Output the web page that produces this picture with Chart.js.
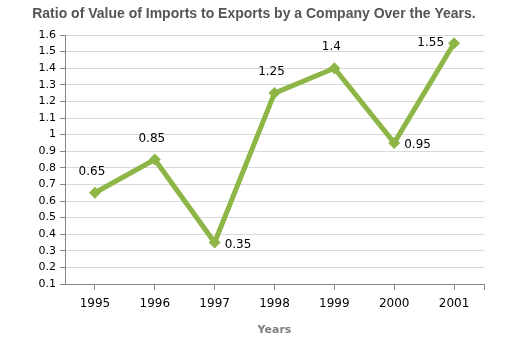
<!DOCTYPE html>
<html><head><meta charset="utf-8">
<script src="https://cdn.jsdelivr.net/npm/chart.js@4/dist/chart.umd.min.js"></script>
<style>html,body{margin:0;padding:0;background:#fff}#wrap{width:529px;height:354px}</style>
</head><body><div id="wrap"><canvas id="c" width="529" height="354"></canvas></div>
<script>
const chartTitle = "Ratio of Value of Imports to Exports by a Company Over the Years.";
const categories = ["1995","1996","1997","1998","1999","2000","2001"];
const ratios = [0.65, 0.85, 0.35, 1.25, 1.4, 0.95, 1.55];
const labelPositions = ["above","above","right","above","above","right","left"];
const yTicks = [0.1,0.2,0.3,0.4,0.5,0.6,0.7,0.8,0.9,1,1.1,1.2,1.3,1.4,1.5,1.6];

const labelPlugin = {
  id: 'valLabels',
  afterDatasetsDraw(chart) {
    const ctx = chart.ctx;
    const meta = chart.getDatasetMeta(0);
    ctx.save();
    ctx.font = '12px "DejaVu Sans", Verdana, sans-serif';
    ctx.fillStyle = '#000';
    ctx.textBaseline = 'middle';
    meta.data.forEach((pt, i) => {
      const pos = labelPositions[i];
      const t = String(ratios[i]);
      if (pos === 'above') { ctx.textAlign = 'center'; ctx.fillText(t, pt.x - 3, pt.y - 21); }
      else if (pos === 'right') { ctx.textAlign = 'left'; ctx.fillText(t, pt.x + 10, pt.y + 2); }
      else { ctx.textAlign = 'right'; ctx.fillText(t, pt.x - 10, pt.y); }
    });
    // title
    ctx.font = 'bold 14px Arial, "Liberation Sans", sans-serif';
    ctx.fillStyle = '#555555';
    ctx.textAlign = 'center';
    ctx.fillText(chartTitle, chart.width * 0.48, 14);
    // end tick on x axis
    const ca = chart.chartArea;
    ctx.strokeStyle = '#868686';
    ctx.lineWidth = 1;
    ctx.beginPath();
    ctx.moveTo(Math.round(ca.right) + 0.5, ca.bottom);
    ctx.lineTo(Math.round(ca.right) + 0.5, ca.bottom + 6);
    ctx.stroke();
    ctx.restore();
  }
};

new Chart(document.getElementById('c'), {
  type: 'line',
  data: { labels: categories, datasets: [{
    data: ratios,
    borderColor: '#8db646',
    backgroundColor: '#8db646',
    borderWidth: 5,
    pointStyle: 'rectRot',
    pointRadius: 6,
    pointHoverRadius: 6,
    pointBorderWidth: 0,
    tension: 0,
    fill: false
  }]},
  options: {
    responsive: false,
    animation: false,
    devicePixelRatio: 1,
    layout: { padding: { left: 0, right: 45, top: 35, bottom: 0 } },
    plugins: {
      legend: { display: false },
      tooltip: { enabled: false },
      title: { display: false }
    },
    scales: {
      x: {
        offset: true,
        grid: { drawOnChartArea: false, color: '#868686', tickLength: 6, tickColor: '#868686' },
        border: { color: '#868686', width: 1 },
        ticks: { color: '#000', font: { family: '"DejaVu Sans", Verdana, sans-serif', size: 12 }, padding: 7, maxRotation: 0 },
        title: { display: true, text: 'Years', color: '#808080', font: { family: '"DejaVu Sans", Verdana, sans-serif', size: 11, weight: 'bold' }, padding: { top: 10, bottom: 17 } },
        afterFit(s) { s.height = 70; }
      },
      y: {
        min: 0.1, max: 1.6,
        afterBuildTicks(s) { s.ticks = yTicks.map(v => ({ value: v })); },
        grid: { color: '#d9d9d9', tickLength: 5, tickColor: '#868686' },
        border: { color: '#868686', width: 1 },
        ticks: { color: '#000', font: { family: '"DejaVu Sans", Verdana, sans-serif', size: 11 }, padding: 4,
          callback: (v) => String(Math.round(v * 10) / 10) },
        afterFit(s) { s.width = 65; }
      }
    }
  },
  plugins: [labelPlugin]
});
</script></body></html>
